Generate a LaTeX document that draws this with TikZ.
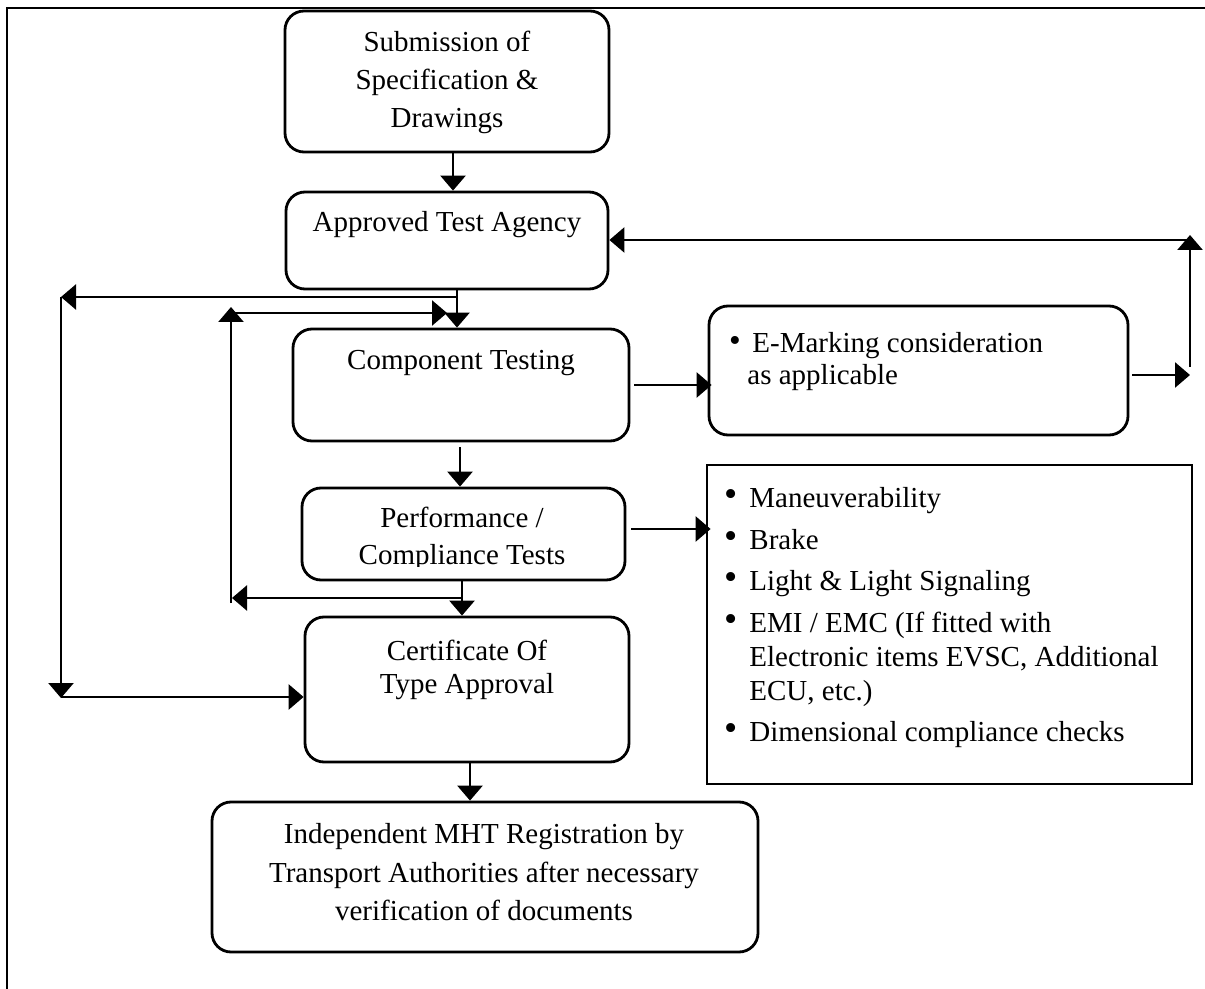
\documentclass[tikz,border=0pt]{standalone}
\usepackage{fontspec}
\setmainfont{Liberation Serif}
\usetikzlibrary{arrows.meta}
\newcommand\mainsz{\fontsize{14.5pt}{17pt}\selectfont}
\newcommand\tl[4]{\node[txt,anchor=#1] (#2) at (#3) {#4};}
\newcommand\bigbul{\scalebox{1.3}{•}}
\tikzset{
  box/.style={draw, line width=1.4pt, rounded corners=9.5pt, inner sep=0pt},
  sqbox/.style={draw, line width=1.4pt, inner sep=0pt},
  txt/.style={inner sep=0pt, font=\mainsz},
  arr/.style={line width=1.3pt, -{Triangle[length=7.5pt,width=12.5pt]}},
  frameline/.style={line width=1.4pt},
}
\begin{document}
\begin{tikzpicture}[x=0.5pt,y=-0.5pt]
\useasboundingbox (0,0) rectangle (1205,989);
% frame
\draw[frameline] (7,995) -- (7,8) -- (1210,8);
% boxes
\node[box, minimum width=162pt, minimum height=70.5pt] (b1) at (447,81.5) {};
\node[box, minimum width=161pt, minimum height=48.5pt] (b2) at (447,240.5) {};
\node[box, minimum width=168pt, minimum height=56pt] (b3) at (461,385) {};
\node[box, minimum width=161.5pt, minimum height=46pt] (b4) at (463.5,534) {};
\node[box, minimum width=162pt, minimum height=72.5pt] (b5) at (467,689.5) {};
\node[box, minimum width=273pt, minimum height=75pt] (b6) at (485,877) {};
\node[box, minimum width=209.5pt, minimum height=64.5pt] (em) at (918.5,370.5) {};
\node[sqbox, minimum width=242.5pt, minimum height=159.5pt] (bl) at (949.5,624.5) {};
% texts
\tl{base}{t1a}{447,52}{Submission of}
\tl{base}{t1b}{447,90}{Specification \&}
\tl{base}{t1c}{447,128}{Drawings}
\tl{base}{t2}{447,232}{Approved Test Agency}
\tl{base}{t3}{461,370}{Component Testing}
\tl{base}{t4a}{462,527}{Performance /}
\begin{scope}
\clip (300,540) rectangle (630,566);
\tl{base}{t4b}{462,565}{Compliance Tests}
\end{scope}
\tl{base}{t5a}{467,660}{Certificate Of}
\tl{base}{t5b}{467,693}{Type Approval}
\tl{base}{t6a}{484,843}{Independent MHT Registration by}
\tl{base}{t6b}{484,882}{Transport Authorities after necessary}
\tl{base}{t6c}{484,920}{verification of documents}
% E-marking
\tl{base}{emb}{735,352}{\scalebox{1.15}{•}}
\tl{base west}{ema}{752,353}{E-Marking consideration}
\tl{base west}{emc}{747,385}{as applicable}
% bullet list
\tl{base}{p1}{731,507}{\bigbul}
\tl{base west}{l1}{749,508}{Maneuverability}
\tl{base}{p2}{731,548}{\bigbul}
\tl{base west}{l2}{749,549}{Brake}
\tl{base}{p3}{731,589}{\bigbul}
\tl{base west}{l3}{749,590}{Light \& Light Signaling}
\tl{base}{p4}{731,631}{\bigbul}
\tl{base west}{l4a}{749,632}{EMI / EMC (If fitted with}
\tl{base west}{l4b}{749,666}{Electronic items EVSC, Additional}
\tl{base west}{l4c}{749,700}{ECU, etc.)}
\tl{base}{p5}{731,740}{\bigbul}
\tl{base west}{l5}{749,741}{Dimensional compliance checks}
% main flow
\draw[arr] ([xshift=3pt]b1.south) -- ([xshift=3pt]b2.north);
\draw[arr] ([xshift=5pt]b2.south) -- ([xshift=-2pt]b3.north);
\draw[arr] ([xshift=-0.5pt,yshift=-2.5pt]b3.south) -- ([xshift=-1.75pt]b4.north);
\draw[arr] ([xshift=-0.75pt]b4.south) -- ([xshift=-2.5pt]b5.north);
\draw[arr] ([xshift=1.5pt]b5.south) -- ([xshift=-7.5pt]b6.north);
% outer left loop
\coordinate (j1) at (457,297);
\coordinate (L1) at (61,297);
\coordinate (L2) at (61,698);
\coordinate (L3) at (61,697);
\draw[arr] (j1) -- (L1);
\draw[arr] (L1) -- (L2);
\draw[arr] (L3) -- (L3 -| b5.west);
% inner left loop
\coordinate (j2) at (462,598);
\coordinate (M1) at (232,598);
\coordinate (M2) at (231,603);
\coordinate (M3) at (231,307);
\coordinate (M4) at (233,313);
\coordinate (M5) at (447,313);
\draw[arr] (j2) -- (M1);
\draw[arr] (M2) -- (M3);
\draw[arr] (M4) -- (M5);
% right side
\draw[arr] ([xshift=2pt]b3.east) -- ([xshift=2pt]b3.east -| em.west);
\coordinate (R1) at (1190,375);
\coordinate (R2) at (1190,367);
\coordinate (R3) at (1190,235);
\coordinate (R4) at (1190,240);
\draw[arr] ([xshift=1.5pt,yshift=-2.25pt]em.east) -- (R1);
\draw[arr] (R2) -- (R3);
\draw[arr] (R4) -- (R4 -| b2.east);
\draw[arr] ([xshift=2.5pt,yshift=2.5pt]b4.east) -- ([xshift=2.5pt,yshift=2.5pt]b4.east -| bl.west);
\end{tikzpicture}
\end{document}
